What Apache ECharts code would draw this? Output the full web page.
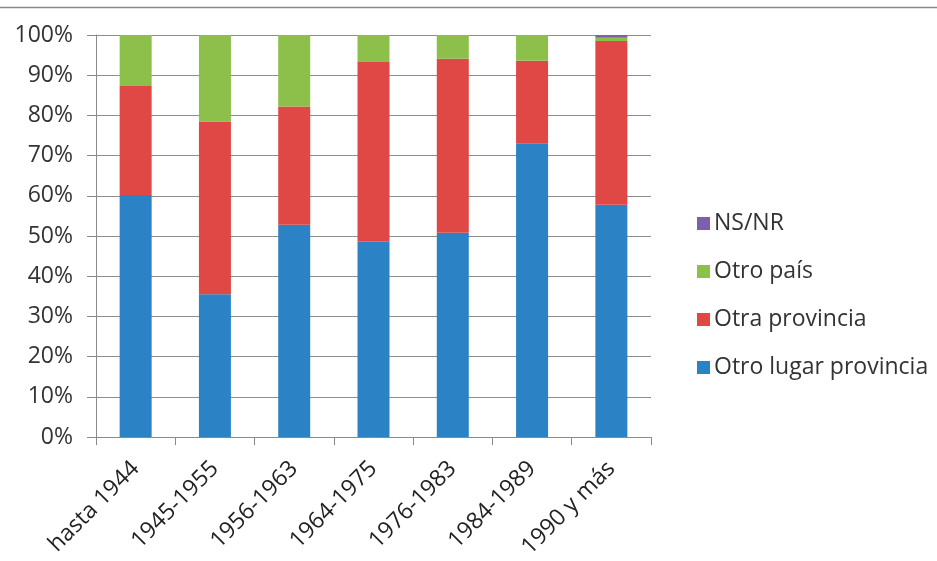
<!DOCTYPE html>
<html>
<head>
<meta charset="utf-8">
<script src="https://cdn.jsdelivr.net/npm/echarts@6/dist/echarts.min.js"></script>
<style>
  html, body { margin: 0; padding: 0; background: #fff; }
  #chart { width: 937px; height: 561px; }
</style>
</head>
<body>
<div id="chart"></div>
<script>
// Periods of arrival
const categories = ['hasta 1944', '1945-1955', '1956-1963', '1964-1975', '1976-1983', '1984-1989', '1990 y más'];

// Share of each origin per period (%)
const otroLugarProvincia = [60.2, 35.5, 52.8, 48.6, 50.8, 73.1, 57.8];
const otraProvincia      = [27.1, 43.0, 29.4, 44.7, 43.3, 20.5, 40.7];
const otroPais           = [12.7, 21.5, 17.8, 6.7, 5.9, 6.4, 0.8];
const nsnr               = [0, 0, 0, 0, 0, 0, 0.7];

const seriesNames = ['Otro lugar provincia', 'Otra provincia', 'Otro país', 'NS/NR'];
const seriesColors = ['#2B83C6', '#E04845', '#8CC04B', '#7E5FAA'];
const seriesData = [otroLugarProvincia, otraProvincia, otroPais, nsnr];

const fontFamily = '"Open Sans", sans-serif';

const chart = echarts.init(document.getElementById('chart'), null, { renderer: 'canvas' });

chart.setOption({
  animation: false,
  backgroundColor: '#ffffff',
  grid: { left: 96, right: 286, top: 35, bottom: 123 },
  legend: {
    orient: 'vertical',
    left: 692,
    top: 207,
    itemWidth: 13,
    itemHeight: 13,
    itemGap: 25,
    icon: 'rect',
    data: ['NS/NR', 'Otro país', 'Otra provincia', 'Otro lugar provincia'],
    textStyle: { fontFamily, fontSize: 23, lineHeight: 23, color: '#333', padding: [0, 0, 0, -1] }
  },
  xAxis: {
    type: 'category',
    data: categories,
    axisLine: { lineStyle: { color: '#8a8a8a', width: 1 } },
    axisTick: { show: true, length: 8, alignWithLabel: false, lineStyle: { color: '#8a8a8a' } },
    axisLabel: {
      rotate: 45,
      interval: 0,
      fontFamily,
      fontSize: 23,
      color: '#222',
      margin: 28
    }
  },
  yAxis: {
    type: 'value',
    min: 0,
    max: 100,
    interval: 10,
    axisLine: { show: true, lineStyle: { color: '#8a8a8a', width: 1 } },
    axisTick: { show: true, length: 9, lineStyle: { color: '#8a8a8a' } },
    splitLine: { lineStyle: { color: '#8e8e8e', width: 1 } },
    axisLabel: {
      formatter: '{value}%',
      fontFamily,
      fontSize: 23,
      color: '#333',
      margin: 23
    }
  },
  series: seriesNames.map((name, i) => ({
    name,
    type: 'bar',
    stack: 'total',
    barWidth: 32,
    data: seriesData[i],
    itemStyle: { color: seriesColors[i] }
  })),
  graphic: [{
    type: 'line',
    shape: { x1: 0, y1: 7.5, x2: 937, y2: 7.5 },
    style: { stroke: '#8a8a8a', lineWidth: 1.5 }
  }]
});
</script>
</body>
</html>
